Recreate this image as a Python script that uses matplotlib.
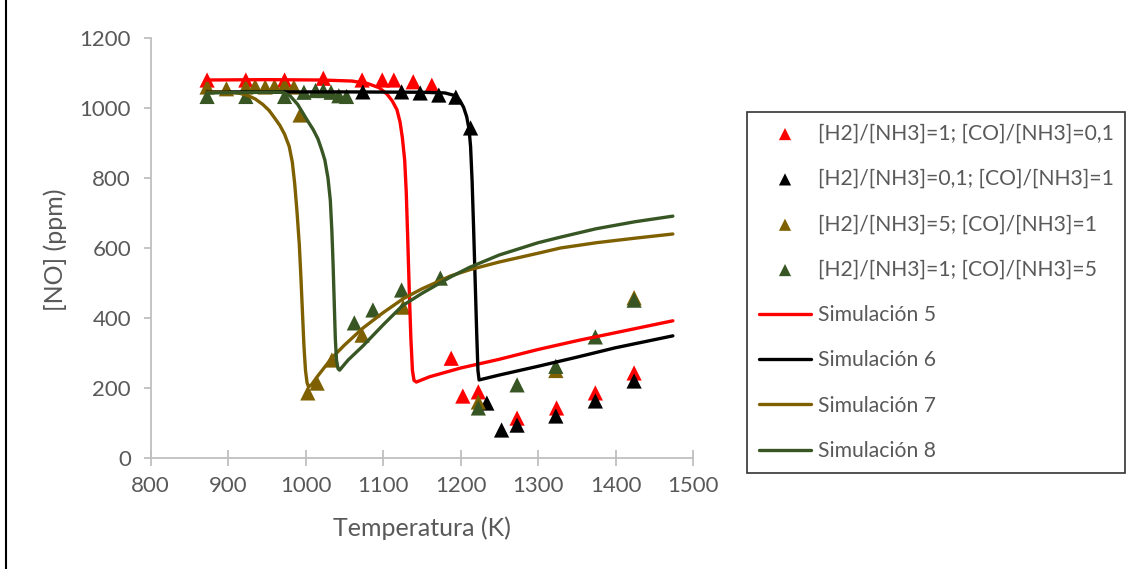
import matplotlib
matplotlib.use("Agg")
import matplotlib.pyplot as plt
from matplotlib.lines import Line2D

plt.rcParams['font.family'] = ['Lato', 'DejaVu Sans']

# Experimental measurements (temperature in K, NO in ppm)
exp_labels = ["[H2]/[NH3]=1; [CO]/[NH3]=0,1",
              "[H2]/[NH3]=0,1; [CO]/[NH3]=1",
              "[H2]/[NH3]=5; [CO]/[NH3]=1",
              "[H2]/[NH3]=1; [CO]/[NH3]=5"]

red_pts_T = [873, 923, 973, 1023, 1073, 1099, 1114, 1139, 1163, 1188, 1203, 1223, 1273, 1324, 1374, 1424]
red_pts_NO = [1080, 1080, 1080, 1085, 1080, 1080, 1080, 1075, 1065, 285, 177, 189, 114, 143, 186, 243]

black_pts_T = [1074, 1124, 1148, 1172, 1194, 1213, 1234, 1253, 1273, 1323, 1374, 1424]
black_pts_NO = [1046, 1046, 1043, 1037, 1031, 943, 157, 80, 94, 120, 163, 220]

olive_pts_T = [873, 898, 923, 935, 948, 960, 973, 985, 993, 1003, 1015, 1034, 1073, 1126, 1223, 1323, 1424]
olive_pts_NO = [1060, 1055, 1060, 1062, 1060, 1062, 1065, 1060, 980, 186, 214, 280, 351, 431, 160, 250, 458]

green_pts_T = [873, 923, 973, 998, 1013, 1023, 1033, 1043, 1053, 1063, 1087, 1124, 1174, 1223, 1273, 1323, 1374, 1424]
green_pts_NO = [1033, 1033, 1033, 1045, 1050, 1050, 1045, 1035, 1033, 386, 423, 480, 514, 143, 209, 262, 346, 451]

# Simulated profiles
sim_labels = ["Simulación 5", "Simulación 6", "Simulación 7", "Simulación 8"]

sim5_T = [873, 950, 1020, 1060, 1080, 1095, 1105, 1112, 1118, 1122, 1125, 1128, 1130, 1132, 1134,
          1136, 1138, 1140, 1143, 1160, 1200, 1250, 1300, 1350, 1400, 1474]
sim5_NO = [1080, 1081, 1080, 1077, 1070, 1058, 1040, 1020, 995, 960, 915, 850, 760, 620, 470,
           340, 250, 222, 217, 232, 257, 282, 310, 335, 358, 392]

sim6_T = [873, 950, 1050, 1150, 1180, 1192, 1199, 1204, 1208, 1211, 1213, 1215, 1217, 1219, 1221,
          1222.5, 1224, 1250, 1300, 1350, 1400, 1474]
sim6_NO = [1046, 1046, 1046, 1045, 1043, 1036, 1022, 1002, 975, 940, 890, 790, 650, 500, 350,
           250, 223, 237, 262, 288, 315, 349]

sim7_T = [873, 900, 915, 925, 935, 945, 953, 960, 967, 973, 979, 983, 986, 989, 992, 994, 996,
          998, 1000, 1002, 1004, 1008, 1015, 1034, 1050, 1074, 1100, 1126, 1150, 1187, 1212,
          1250, 1300, 1329, 1375, 1425, 1474]
sim7_NO = [1045, 1045, 1042, 1036, 1026, 1010, 993, 972, 950, 925, 890, 845, 785, 705, 610, 520,
           420, 320, 250, 215, 203, 210, 232, 286, 322, 371, 415, 455, 483, 520, 538,
           560, 585, 600, 615, 628, 640]

sim8_T = [873, 950, 971, 980, 990, 1002, 1010, 1016, 1021, 1025, 1029, 1032, 1034, 1035.5, 1037,
          1038.5, 1040, 1042, 1044, 1055, 1074, 1100, 1125, 1150, 1187, 1212, 1250, 1300, 1329,
          1375, 1425, 1474]
sim8_NO = [1043, 1045, 1045, 1035, 1010, 966, 938, 912, 880, 851, 800, 737, 650, 560, 450,
           340, 280, 255, 251, 280, 320, 380, 435, 470, 517, 545, 580, 615, 631,
           655, 675, 691]

x_ticks = [800, 900, 1000, 1100, 1200, 1300, 1400, 1500]
y_ticks = [0, 200, 400, 600, 800, 1000, 1200]

colors = ["#FF0000", "#000000", "#7F6000", "#375623"]
text_gray = "#595959"
axis_gray = "#BFBFBF"

W, H = 1132, 569
fig = plt.figure(figsize=(W / 100, H / 100), dpi=100)
ax = fig.add_axes([150.5 / W, 1 - 458 / H, 542.5 / W, 420 / H])

pts = [(red_pts_T, red_pts_NO), (black_pts_T, black_pts_NO),
       (olive_pts_T, olive_pts_NO), (green_pts_T, green_pts_NO)]
sims = [(sim5_T, sim5_NO), (sim6_T, sim6_NO), (sim7_T, sim7_NO), (sim8_T, sim8_NO)]

handles = []
for (t, no), c, lab in zip(pts, colors, exp_labels):
    h = ax.scatter(t, no, marker="^", s=120, color=c, edgecolors="none", zorder=2, label=lab)
    handles.append(h)
for (t, no), c, lab in zip(sims, colors, sim_labels):
    h, = ax.plot(t, no, color=c, lw=2.4, zorder=3, label=lab,
                 solid_capstyle="round", solid_joinstyle="round")
    handles.append(h)

ax.set_xlim(800, 1500)
ax.set_ylim(0, 1200)
ax.set_xticks(x_ticks)
ax.set_yticks(y_ticks)
for s in ["top", "right"]:
    ax.spines[s].set_visible(False)
for s in ["left", "bottom"]:
    ax.spines[s].set_color(axis_gray)
    ax.spines[s].set_linewidth(1.3)
ax.tick_params(axis="x", direction="inout", length=11.5, width=1.3, color=axis_gray,
               labelsize=16, labelcolor=text_gray, pad=7)
ax.tick_params(axis="y", direction="out", length=5, width=1.3, color=axis_gray,
               labelsize=16, labelcolor=text_gray, pad=9)

ax.set_xlabel("Temperatura (K)", fontsize=18, color=text_gray, va="center")
ax.set_ylabel("[NO] (ppm)", fontsize=18, color=text_gray, va="center")
ax.xaxis.set_label_coords((422 - 150.5) / 542.5, (458 - 528) / 420)
ax.yaxis.set_label_coords((55 - 150.5) / 542.5, (458 - 250) / 420)

leg = fig.legend(handles=handles, loc="upper left",
                 bbox_to_anchor=(747 / W, 1 - 112 / H), borderaxespad=0,
                 fontsize=15.2, labelcolor=text_gray, frameon=True, fancybox=False,
                 edgecolor="black", handlelength=2.5, handletextpad=0.3,
                 labelspacing=1.2, borderpad=0.55, markerscale=0.8, scatterpoints=1)
leg.get_frame().set_linewidth(1.2)

# chart-area border on the left edge
fig.add_artist(Line2D([5.5 / W, 5.5 / W], [0, 1], transform=fig.transFigure,
                      color="black", lw=1.5))

fig.savefig("out.png", dpi=100)
